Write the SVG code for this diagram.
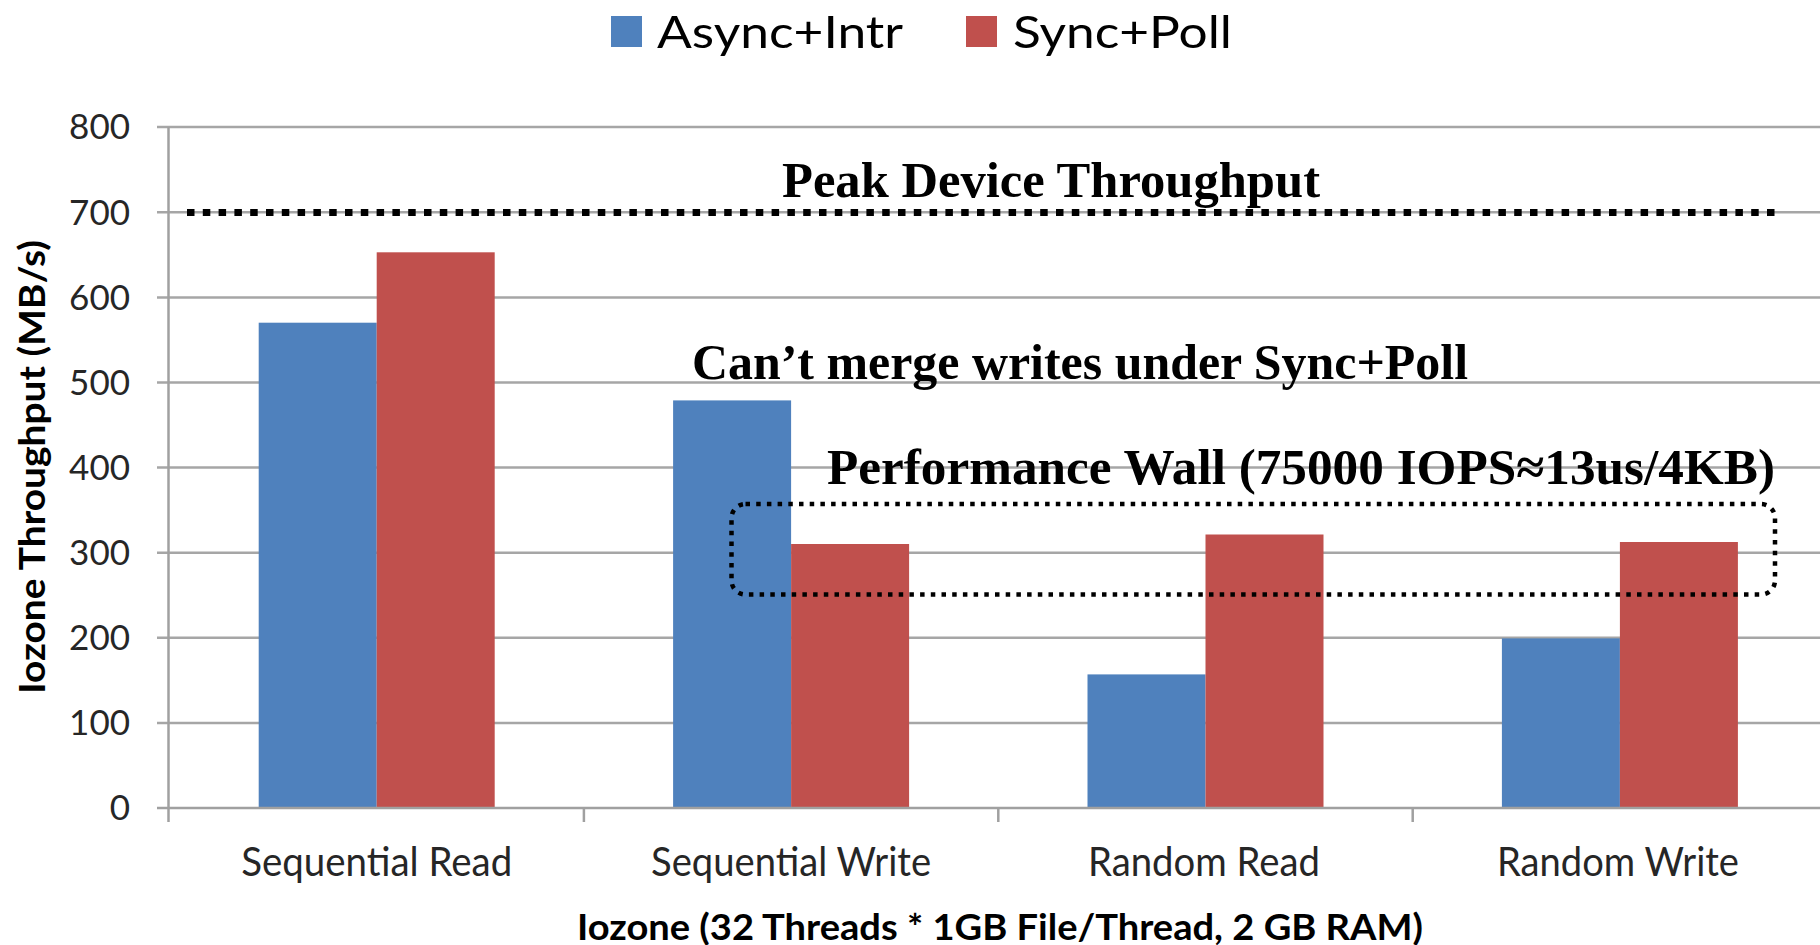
<svg xmlns="http://www.w3.org/2000/svg" width="1820" height="945" viewBox="0 0 1820 945">
  <style>
    .grid { stroke: #a6a6a6; stroke-width: 2.5; fill: none; }
    .axis { stroke: #a0a0a0; stroke-width: 2.5; fill: none; }
    .blue { fill: #4f81bd; }
    .red { fill: #c0504d; }
    .tick { font-family: Lato, "Open Sans", sans-serif; font-size: 35px; fill: #262626; text-anchor: end; }
    .cat { font-family: Lato, "Open Sans", sans-serif; font-size: 40px; fill: #262626; text-anchor: middle; }
    .legend { font-family: Lato, "Open Sans", sans-serif; font-size: 45px; fill: #000; }
    .title { font-family: Lato, "Open Sans", sans-serif; font-size: 37px; font-weight: bold; fill: #000; }
    .note { font-family: "Liberation Serif", "DejaVu Serif", serif; font-size: 50px; font-weight: bold; fill: #000; }
  </style>
  <rect width="1820" height="945" fill="#ffffff"/>

  <!-- legend -->
  <g id="legend">
    <rect class="blue" x="611" y="16" width="31" height="31"/>
    <text class="legend" x="657" y="48" textLength="246" lengthAdjust="spacingAndGlyphs">Async+Intr</text>
    <rect class="red" x="966" y="16" width="31" height="31"/>
    <text class="legend" x="1013" y="48" textLength="219" lengthAdjust="spacingAndGlyphs">Sync+Poll</text>
  </g>

  <!-- horizontal gridlines, every 100 MB/s -->
  <g id="gridlines">
    <line class="grid" x1="157" y1="127" x2="1820" y2="127"/>
    <line class="grid" x1="157" y1="212.3" x2="1820" y2="212.3"/>
    <line class="grid" x1="157" y1="297.4" x2="1820" y2="297.4"/>
    <line class="grid" x1="157" y1="382.5" x2="1820" y2="382.5"/>
    <line class="grid" x1="157" y1="467.6" x2="1820" y2="467.6"/>
    <line class="grid" x1="157" y1="552.7" x2="1820" y2="552.7"/>
    <line class="grid" x1="157" y1="637.8" x2="1820" y2="637.8"/>
    <line class="grid" x1="157" y1="722.9" x2="1820" y2="722.9"/>
  </g>

  <!-- y tick labels -->
  <g id="y-ticks">
    <text class="tick" x="130" y="139">800</text>
    <text class="tick" x="130" y="224.5">700</text>
    <text class="tick" x="130" y="309.5">600</text>
    <text class="tick" x="130" y="394.5">500</text>
    <text class="tick" x="130" y="479.5">400</text>
    <text class="tick" x="130" y="564.5">300</text>
    <text class="tick" x="130" y="649.5">200</text>
    <text class="tick" x="130" y="734.5">100</text>
    <text class="tick" x="130" y="820">0</text>
  </g>

  <!-- bars -->
  <g id="bars-sequential-read">
    <rect class="blue" x="258.7" y="322.7" width="118" height="485.3"/>
    <rect class="red" x="376.7" y="252.3" width="118" height="555.7"/>
  </g>
  <g id="bars-sequential-write">
    <rect class="blue" x="673.1" y="400.4" width="118" height="407.6"/>
    <rect class="red" x="791.1" y="544" width="118" height="264"/>
  </g>
  <g id="bars-random-read">
    <rect class="blue" x="1087.5" y="674.4" width="118" height="133.6"/>
    <rect class="red" x="1205.5" y="534.5" width="118" height="273.5"/>
  </g>
  <g id="bars-random-write">
    <rect class="blue" x="1501.9" y="638.4" width="118" height="169.6"/>
    <rect class="red" x="1619.9" y="542" width="118" height="266"/>
  </g>

  <!-- axes -->
  <g id="axes">
    <line class="axis" x1="157" y1="808" x2="1820" y2="808"/>
    <line class="axis" x1="168.5" y1="127" x2="168.5" y2="822"/>
    <line class="axis" x1="583.9" y1="808" x2="583.9" y2="822"/>
    <line class="axis" x1="998.3" y1="808" x2="998.3" y2="822"/>
    <line class="axis" x1="1412.7" y1="808" x2="1412.7" y2="822"/>
  </g>

  <!-- category labels -->
  <g id="x-categories">
    <text class="cat" x="376.7" y="876" textLength="271" lengthAdjust="spacingAndGlyphs">Sequential Read</text>
    <text class="cat" x="791.1" y="876" textLength="280" lengthAdjust="spacingAndGlyphs">Sequential Write</text>
    <text class="cat" x="1204" y="876" textLength="232" lengthAdjust="spacingAndGlyphs">Random Read</text>
    <text class="cat" x="1618" y="876" textLength="242" lengthAdjust="spacingAndGlyphs">Random Write</text>
  </g>

  <!-- axis titles -->
  <g id="axis-titles">
    <text class="title" x="577" y="940" textLength="846" lengthAdjust="spacingAndGlyphs">Iozone (32 Threads * 1GB File/Thread, 2 GB RAM)</text>
    <text class="title" transform="translate(45,467) rotate(-90)" x="0" y="0" text-anchor="middle" textLength="454" lengthAdjust="spacingAndGlyphs">Iozone Throughput (MB/s)</text>
  </g>

  <!-- peak device throughput marker -->
  <g id="peak-line">
    <line x1="187" y1="212.5" x2="1775" y2="212.5" stroke="#000" stroke-width="7" stroke-dasharray="7.5 8.3"/>
    <text class="note" x="782" y="197" textLength="538" lengthAdjust="spacingAndGlyphs">Peak Device Throughput</text>
  </g>

  <!-- write-merge note -->
  <g id="merge-note">
    <text class="note" x="692" y="379" textLength="776" lengthAdjust="spacingAndGlyphs">Can’t merge writes under Sync+Poll</text>
  </g>

  <!-- performance wall box -->
  <g id="performance-wall">
    <rect x="731.5" y="504" width="1043.5" height="90.5" rx="14" ry="14" fill="none" stroke="#000" stroke-width="4.5" stroke-dasharray="4.5 6.2"/>
    <text class="note" x="827" y="484" textLength="948" lengthAdjust="spacingAndGlyphs">Performance Wall (75000 IOPS≈13us/4KB)</text>
  </g>
</svg>
